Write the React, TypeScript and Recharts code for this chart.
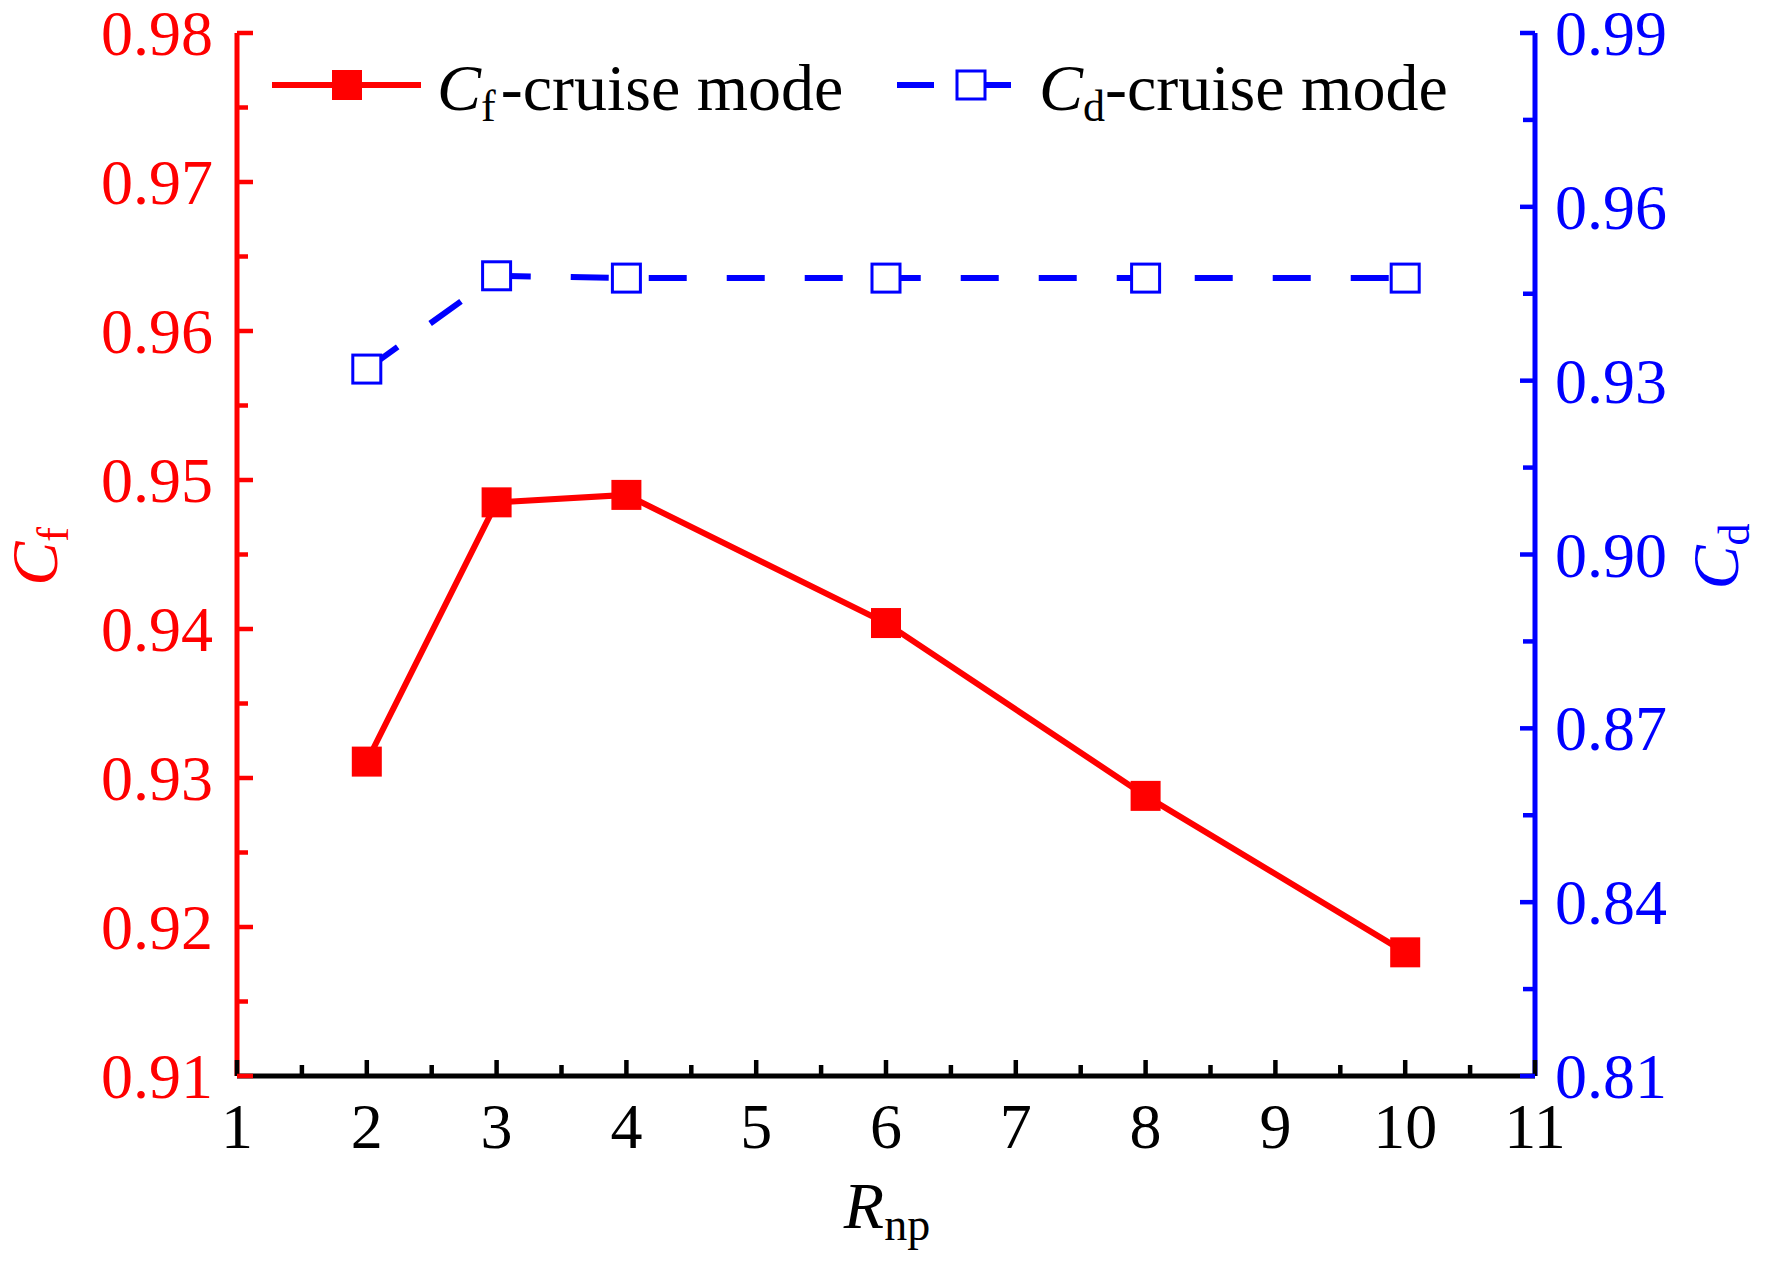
import { LineChart, Line, XAxis, YAxis, Legend } from 'recharts';

// R_np values and the two measured coefficients
const RNP = [2, 3, 4, 6, 8, 10];
const CF_CRUISE = [0.9311, 0.9485, 0.949, 0.9404, 0.9288, 0.9183];
const CD_CRUISE = [0.932, 0.9481, 0.9477, 0.9477, 0.9477, 0.9477];

const X_TICKS = [1, 2, 3, 4, 5, 6, 7, 8, 9, 10, 11];
const CF_TICKS = [0.91, 0.92, 0.93, 0.94, 0.95, 0.96, 0.97, 0.98];
const CD_TICKS = [0.81, 0.84, 0.87, 0.9, 0.93, 0.96, 0.99];

const LEGEND_NAMES = ['C', 'C'];
const LEGEND_SUBS = ['f', 'd'];
const LEGEND_SUFFIX = '-cruise mode';

const RED = '#ff0000';
const BLUE = '#0000ff';
const FONT = '"Liberation Serif", "Times New Roman", serif';

const data = RNP.map((r, i) => ({ r, cf: CF_CRUISE[i], cd: CD_CRUISE[i] }));

const withMinor = (major: number[]) =>
  major.flatMap((v, i) => (i < major.length - 1 ? [v, (v + major[i + 1]) / 2] : [v]));
const isMajor = (v: number, major: number[]) => major.some((m) => Math.abs(m - v) < 1e-9);

const leftTick = (props: any) => {
  const { x, y, payload } = props;
  const major = isMajor(payload.value, CF_TICKS);
  return (
    <g>
      <line x1={x} x2={x + (major ? 16 : 11)} y1={y} y2={y} stroke={RED} strokeWidth={4.5} />
      {major && (
        <text x={x - 24} y={y} dy={22} textAnchor="end" fill={RED} fontSize={64} fontFamily={FONT}>
          {payload.value.toFixed(2)}
        </text>
      )}
    </g>
  );
};

const rightTick = (props: any) => {
  const { x, y, payload } = props;
  const major = isMajor(payload.value, CD_TICKS);
  return (
    <g>
      <line x1={x} x2={x - (major ? 15 : 12)} y1={y} y2={y} stroke={BLUE} strokeWidth={4.5} />
      {major && (
        <text x={x + 20} y={y} dy={22} textAnchor="start" fill={BLUE} fontSize={64} fontFamily={FONT}>
          {payload.value.toFixed(2)}
        </text>
      )}
    </g>
  );
};

const bottomTick = (props: any) => {
  const { x, y, payload } = props;
  const major = isMajor(payload.value, X_TICKS);
  return (
    <g>
      <line x1={x} x2={x} y1={y} y2={y - (major ? 16 : 11)} stroke="#000" strokeWidth={4.5} />
      {major && (
        <text x={x} y={y + 72} textAnchor="middle" fill="#000" fontSize={64} fontFamily={FONT}>
          {String(payload.value)}
        </text>
      )}
    </g>
  );
};

const redSquare = (props: any) => (
  <rect key={`cf-${props.index}`} x={props.cx - 15} y={props.cy - 15} width={30} height={30} fill={RED} />
);

const blueSquare = (props: any) => (
  <rect
    key={`cd-${props.index}`}
    x={props.cx - 14}
    y={props.cy - 14}
    width={28}
    height={28}
    fill="#fff"
    stroke={BLUE}
    strokeWidth={3}
  />
);

const legendText = (x: number, i: number) => (
  <text x={x} y={110} fontSize={66} fontFamily={FONT} fill="#000">
    <tspan fontStyle="italic">{LEGEND_NAMES[i]}</tspan>
    <tspan fontSize={44} dy={11}>
      {LEGEND_SUBS[i]}
    </tspan>
    <tspan dy={-11} dx={i === 0 ? 5 : 0}>
      {LEGEND_SUFFIX}
    </tspan>
  </text>
);

const renderLegend = () => (
  <svg width={1772} height={200} style={{ display: 'block', overflow: 'visible' }}>
    <line x1={272} x2={421} y1={85} y2={85} stroke={RED} strokeWidth={6} />
    <rect x={332} y={70} width={30} height={30} fill={RED} />
    {legendText(437, 0)}
    <line x1={897} x2={934} y1={85} y2={85} stroke={BLUE} strokeWidth={6} />
    <line x1={957} x2={1011} y1={85} y2={85} stroke={BLUE} strokeWidth={6} />
    <rect x={957} y={71} width={28} height={28} fill="#fff" stroke={BLUE} strokeWidth={3} />
    {legendText(1039, 1)}
  </svg>
);

const leftLabel = (props: any) => {
  const { viewBox } = props;
  const x = viewBox.x + 57;
  const y = viewBox.y + viewBox.height / 2 + 2;
  return (
    <text x={x} y={y} transform={`rotate(-90 ${x} ${y})`} textAnchor="middle" fill={RED} fontSize={66} fontFamily={FONT}>
      <tspan fontStyle="italic">C</tspan>
      <tspan fontSize={44} dy={11}>f</tspan>
    </text>
  );
};

const rightLabel = (props: any) => {
  const { viewBox } = props;
  const x = viewBox.x + 203;
  const y = viewBox.y + viewBox.height / 2 + 2;
  return (
    <text x={x} y={y} transform={`rotate(-90 ${x} ${y})`} textAnchor="middle" fill={BLUE} fontSize={66} fontFamily={FONT}>
      <tspan fontStyle="italic">C</tspan>
      <tspan fontSize={44} dy={11}>d</tspan>
    </text>
  );
};

const bottomLabel = (props: any) => {
  const { viewBox } = props;
  const x = viewBox.x + viewBox.width / 2 + 1;
  const y = viewBox.y + 152;
  return (
    <text x={x} y={y} textAnchor="middle" fill="#000" fontSize={66} fontFamily={FONT}>
      <tspan fontStyle="italic">R</tspan>
      <tspan fontSize={46} dy={12}>np</tspan>
    </text>
  );
};

export default function App() {
  return (
    <div style={{ position: 'absolute', left: 0, top: 0, background: '#fff' }}>
      <LineChart width={1772} height={1261} data={data} margin={{ top: 33, right: 0, bottom: 0, left: 0 }}>
        <XAxis
          xAxisId="top"
          orientation="top"
          dataKey="r"
          type="number"
          domain={[1, 11]}
          height={0}
          tick={false}
          tickLine={false}
          axisLine={{ stroke: '#000', strokeWidth: 5 }}
        />
        <XAxis
          dataKey="r"
          type="number"
          domain={[1, 11]}
          ticks={withMinor(X_TICKS)}
          interval={0}
          height={185}
          tickSize={0}
          tickMargin={0}
          tickLine={false}
          tick={bottomTick}
          axisLine={{ stroke: '#000', strokeWidth: 5 }}
          label={bottomLabel}
        />
        <YAxis
          yAxisId="cf"
          orientation="left"
          type="number"
          domain={[0.91, 0.98]}
          allowDataOverflow
          ticks={withMinor(CF_TICKS)}
          interval={0}
          width={237}
          tickSize={0}
          tickMargin={0}
          tickLine={false}
          tick={leftTick}
          axisLine={{ stroke: RED, strokeWidth: 5 }}
          label={leftLabel}
        />
        <YAxis
          yAxisId="cd"
          orientation="right"
          type="number"
          domain={[0.81, 0.99]}
          allowDataOverflow
          ticks={withMinor(CD_TICKS)}
          interval={0}
          width={237}
          tickSize={0}
          tickMargin={0}
          tickLine={false}
          tick={rightTick}
          axisLine={{ stroke: BLUE, strokeWidth: 5 }}
          label={rightLabel}
        />
        <Line
          yAxisId="cf"
          dataKey="cf"
          name="Cf-cruise mode"
          stroke={RED}
          strokeWidth={6}
          dot={redSquare}
          activeDot={false}
          isAnimationActive={false}
        />
        <Line
          yAxisId="cd"
          dataKey="cd"
          name="Cd-cruise mode"
          stroke={BLUE}
          strokeWidth={6}
          strokeDasharray="38 40"
          dot={blueSquare}
          activeDot={false}
          isAnimationActive={false}
        />
        <Legend
          layout="horizontal"
          verticalAlign="middle"
          align="center"
          content={renderLegend}
          wrapperStyle={{ position: 'absolute', left: 0, top: 0, width: 1772, height: 200, margin: 0, padding: 0 }}
        />
      </LineChart>
    </div>
  );
}
